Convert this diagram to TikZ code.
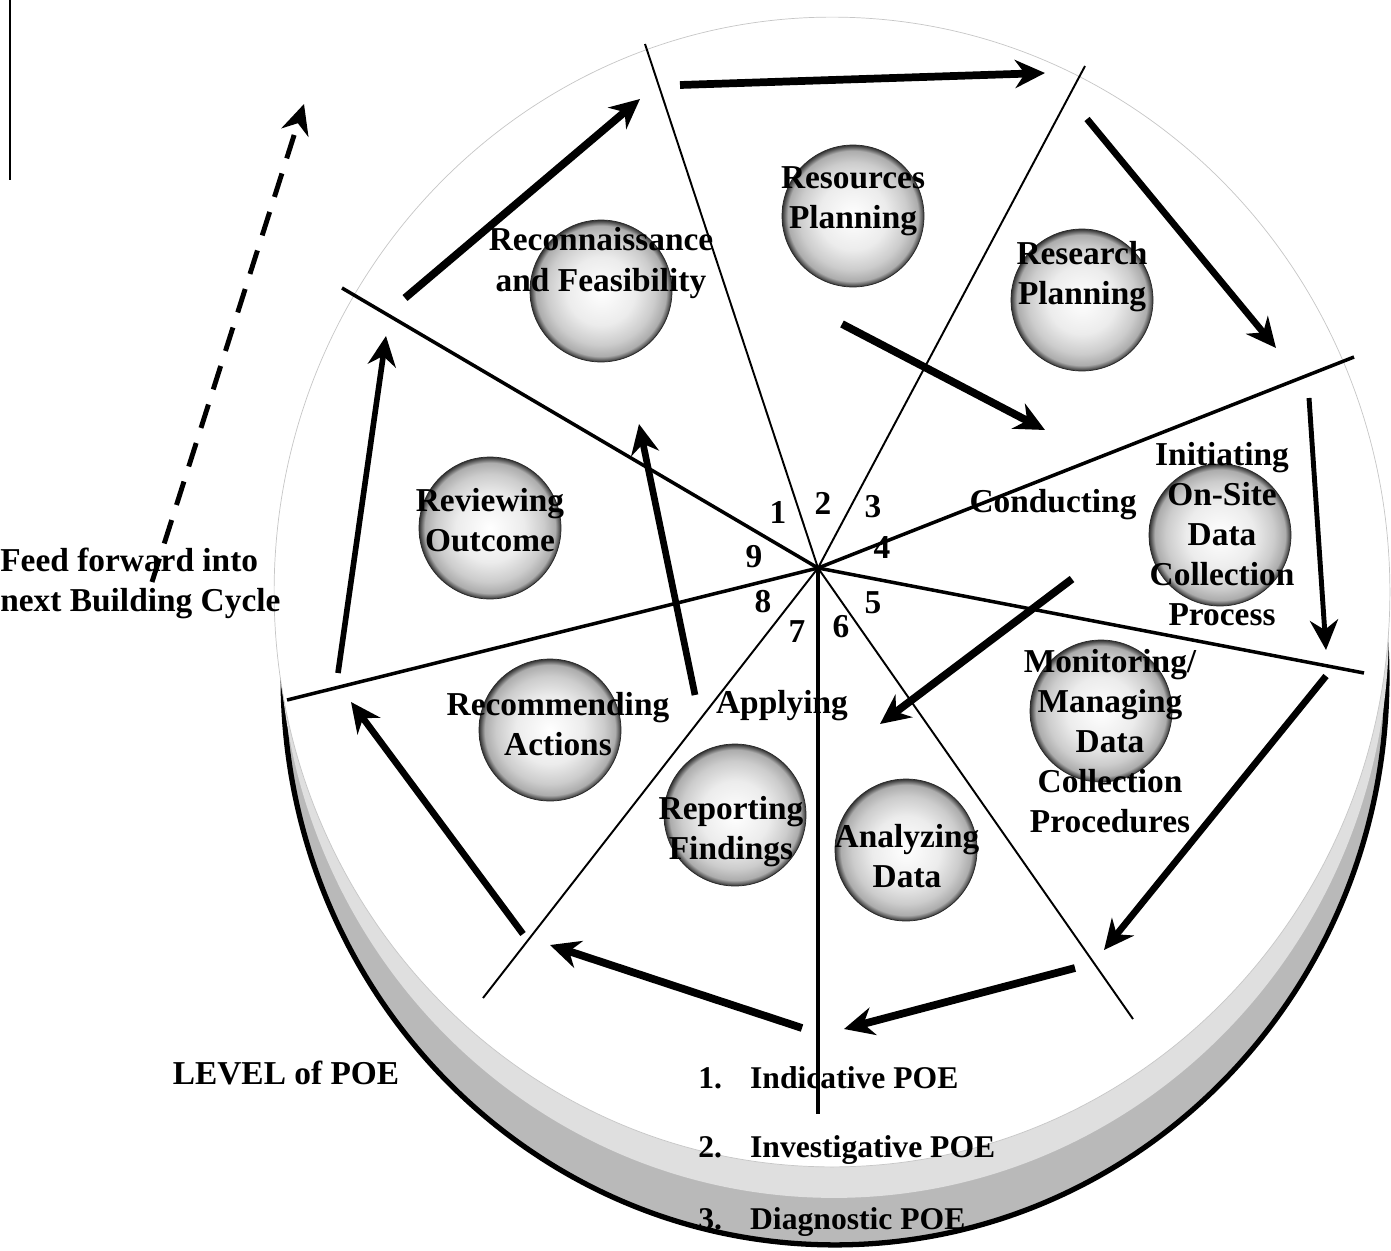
\documentclass[tikz,border=0pt]{standalone}
\usepackage{fontspec}
\setmainfont{Liberation Serif}
\usetikzlibrary{arrows.meta}
\pgfdeclareradialshading{ballshade}{\pgfpoint{0bp}{0bp}}{%
  color(0bp)=(white); color(12bp)=(gray!15); color(19bp)=(gray!40);
  color(23bp)=(gray!65); color(25bp)=(gray!40!black);
  color(50bp)=(gray!40!black)}
\tikzset{%
  >={Stealth[length=17pt,width=16pt]},
  % Specifications for style of nodes:
       sphere/.style = {circle, minimum size=2.84cm, inner sep=0pt,
                        shading=ballshade, draw=gray!30!black},
     steptext/.style = {align=center, inner sep=0pt,
                        font=\bfseries\fontsize{19}{22.8}\selectfont},
      poetext/.style = {inner sep=0pt, anchor=west,
                        font=\bfseries\fontsize{18}{22}\selectfont},
    spokethin/.style = {line width=1.1pt},
   spokethick/.style = {line width=2pt},
     flowline/.style = {->, line width=3.8pt},
}

\begin{document}
\begin{tikzpicture}[x=0.02cm, y=-0.02cm]
  \useasboundingbox (0,0) rectangle (1391,1250);
  % Disc with its shadowed rim
  \filldraw[fill=gray!55, draw=black, line width=3pt]
    (835,678) ellipse [x radius=11.04cm, y radius=11.34cm];
  \fill[gray!25] (834,628) ellipse [x radius=11.1cm, y radius=11.4cm];
  \filldraw[fill=white, draw=gray!45]
    (832,592) ellipse [x radius=11.16cm, y radius=11.5cm];
  \draw[line width=1pt] (10,0) -- (10,180);

  % Spokes from the hub
  \coordinate (hub) at (818,568);
  \coordinate (rim1) at (342,288);
  \coordinate (rim2) at (645,44);
  \coordinate (rim3) at (1085,66);
  \coordinate (rim4) at (1354,357);
  \coordinate (rim5) at (1364,673);
  \coordinate (rim6) at (1133,1019);
  \coordinate (rim7) at (818,1114);
  \coordinate (rim8) at (483,998);
  \coordinate (rim9) at (287,700);
  \draw[spokethick] (hub) -- (rim1);
  \draw[spokethin] (hub) -- (rim2);
  \draw[spokethin] (hub) -- (rim3);
  \draw[spokethick] (hub) -- (rim4);
  \draw[spokethick] (hub) -- (rim5);
  \draw[spokethin] (hub) -- (rim6);
  \draw[spokethick] (hub) -- (rim7);
  \draw[spokethin] (hub) -- (rim8);
  \draw[spokethick] (hub) -- (rim9);

  % Segment numbers
  \node (num1) [steptext] at (778,512) {1};
  \node (num2) [steptext] at (823,503) {2};
  \node (num3) [steptext] at (873,507) {3};
  \node (num4) [steptext] at (882,548) {4};
  \node (num5) [steptext] at (873,603) {5};
  \node (num6) [steptext] at (841,627) {6};
  \node (num7) [steptext] at (797,632) {7};
  \node (num8) [steptext] at (763,602) {8};
  \node (num9) [steptext] at (754,557) {9};

  % Spheres of the stages
  \node (reconBall) [sphere] at (601,291) {};
  \node (resBall) [sphere] at (853,216) {};
  \node (researchBall) [sphere] at (1082,300) {};
  \node (initBall) [sphere] at (1220,535) {};
  \node (monitorBall) [sphere] at (1101,711) {};
  \node (analyseBall) [sphere] at (906,850) {};
  \node (reportBall) [sphere] at (735,815) {};
  \node (recommendBall) [sphere] at (550,730) {};
  \node (reviewBall) [sphere] at (490,528) {};

  % Stage names
  \node (reconText) [steptext] at (601,263) {Reconnaissance\\and Feasibility};
  \node (resText) [steptext] at (853,201) {Resources\\Planning};
  \node (researchText) [steptext] at (1082,277) {Research\\Planning};
  \node (initText) [steptext] at (1222,534)
    {Initiating\\On-Site\\Data\\Collection\\Process};
  \node (monitorText) [steptext] at (1110,741)
    {Monitoring/\\Managing\\Data\\Collection\\Procedures};
  \node (analyseText) [steptext] at (907,856) {Analyzing\\Data};
  \node (reportText) [steptext] at (731,832) {Reporting\\Findings};
  \node (recommendText) [steptext] at (558,724) {Recommending\\Actions};
  \node (reviewText) [steptext] at (490,520) {Reviewing\\Outcome};
  \node (conductText) [steptext] at (1053,505) {Conducting};
  \node (applyText) [steptext] at (782,706) {Applying};

  % Ends of the arrows round the cycle
  \coordinate (out1a) at (405,298);  \coordinate (out1b) at (640,99);
  \coordinate (out2a) at (680,85);   \coordinate (out2b) at (1045,73);
  \coordinate (out3a) at (1087,119); \coordinate (out3b) at (1276,348);
  \coordinate (out4a) at (1309,398); \coordinate (out4b) at (1326,650);
  \coordinate (out5a) at (1326,676); \coordinate (out5b) at (1104,950);
  \coordinate (out6a) at (1075,968); \coordinate (out6b) at (844,1029);
  \coordinate (out7a) at (802,1028); \coordinate (out7b) at (550,945);
  \coordinate (out8a) at (523,934);  \coordinate (out8b) at (351,702);
  \coordinate (out9a) at (338,673);  \coordinate (out9b) at (386,336);
  % Ends of the inner arrows
  \coordinate (in1a) at (842,324);   \coordinate (in1b) at (1045,430);
  \coordinate (in2a) at (1072,579);  \coordinate (in2b) at (880,724);
  \coordinate (in3a) at (695,695);   \coordinate (in3b) at (639,424);
  % Feed forward arrow
  \coordinate (feedA) at (152,582);  \coordinate (feedB) at (304,104);

  \draw[flowline, line width=4.4pt] (out1a) -- (out1b);
  \draw[flowline, line width=4.4pt] (out2a) -- (out2b);
  \draw[flowline] (out3a) -- (out3b);
  \draw[flowline, line width=2.8pt] (out4a) -- (out4b);
  \draw[flowline] (out5a) -- (out5b);
  \draw[flowline, line width=4.4pt] (out6a) -- (out6b);
  \draw[flowline, line width=4.4pt] (out7a) -- (out7b);
  \draw[flowline] (out8a) -- (out8b);
  \draw[flowline, line width=3.2pt] (out9a) -- (out9b);
  \draw[flowline, line width=4.4pt] (in1a) -- (in1b);
  \draw[flowline, line width=4.4pt] (in2a) -- (in2b);
  \draw[flowline] (in3a) -- (in3b);
  \draw[flowline, line width=2.8pt, dash pattern=on 14pt off 9pt]
    (feedA) -- (feedB);

  % Texts outside the disc and levels
  \node (feedText) [steptext, align=left, anchor=west] at (0,583)
    {Feed forward into\\next Building Cycle};
  \node (levelText) [steptext] at (286,1073) {LEVEL of POE};
  \node (poeOne) [poetext] at (698,1078) {1.\hspace{16pt}Indicative POE};
  \node (poeTwo) [poetext] at (698,1150) {2.\hspace{16pt}Investigative POE};
  \node (poeThree) [poetext] at (698,1222) {3.\hspace{16pt}Diagnostic POE};
\end{tikzpicture}
\end{document}
